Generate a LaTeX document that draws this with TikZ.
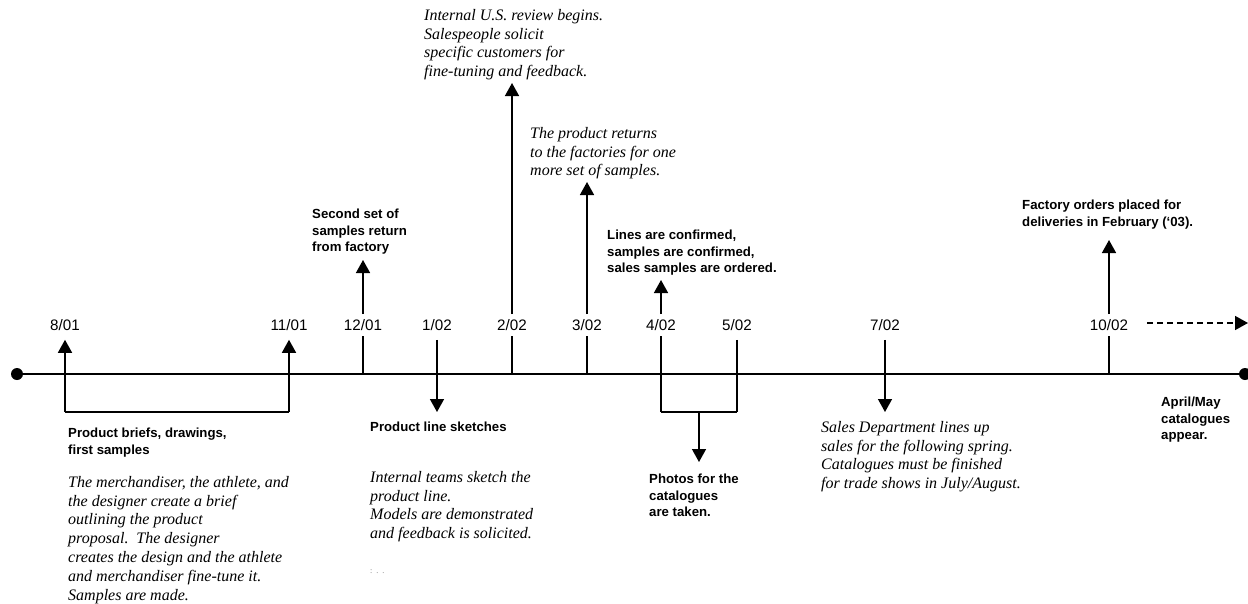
\documentclass[tikz,border=0pt]{standalone}
\usepackage{fontspec}
\setmainfont{Liberation Serif}
\setsansfont{Liberation Sans}
\usetikzlibrary{arrows.meta}

\tikzset{
	datelbl/.style={font=\sffamily\fontsize{15.2}{18}\selectfont, inner sep=5pt},
	headtxt/.style={font=\sffamily\bfseries\fontsize{13.2}{16.5}\selectfont, align=left, anchor=north west, inner sep=0pt},
	notetxt/.style={font=\itshape\fontsize{16}{18.8}\selectfont, align=left, anchor=north west, inner sep=0pt},
	evline/.style={line width=1.5pt},
	evarrow/.style={line width=1.5pt, -{Triangle[width=14pt,length=13pt]}},
	axisdot/.style={circle, fill=black, inner sep=0pt, minimum size=12pt},
}

\begin{document}
\begin{tikzpicture}[x=1pt,y=-1pt]
	\useasboundingbox (0,0) rectangle (1248,603);

	% time line
	\node[axisdot] (start) at (17,374) {};
	\node[axisdot] (finish) at (1245,374) {};
	\draw[line width=2pt] (start) -- (finish);

	% dates
	\node[datelbl] (d801) at (65,325) {8/01};
	\node[datelbl] (d1101) at (289,325) {11/01};
	\node[datelbl] (d1201) at (363,325) {12/01};
	\node[datelbl] (d102) at (437,325) {1/02};
	\node[datelbl] (d202) at (512,325) {2/02};
	\node[datelbl] (d302) at (587,325) {3/02};
	\node[datelbl] (d402) at (661,325) {4/02};
	\node[datelbl] (d502) at (737,325) {5/02};
	\node[datelbl] (d702) at (885,325) {7/02};
	\node[datelbl] (d1002) at (1109,325) {10/02};

	% 8/01 - 11/01
	\coordinate (b801) at (65,412);
	\coordinate (b1101) at (289,412);
	\draw[evline] (b801) -- (b1101);
	\draw[evarrow] [shorten >=4pt] (b801) -- (d801.south);
	\draw[evarrow] [shorten >=4pt] (b1101) -- (d1101.south);
	\node[headtxt] (briefs) at (68,428) {Product briefs, drawings,\\first samples};
	\node[notetxt] (briefsnote) at (68,476) {The merchandiser, the athlete, and\\the designer create a brief\\outlining the product\\proposal.\ \ The designer\\creates the design and the athlete\\and merchandiser fine-tune it.\\Samples are made.};

	% 12/01
	\coordinate (a1201) at (363,374);
	\coordinate (t1201) at (363,260);
	\draw[evline] (a1201) -- (d1201.south);
	\draw[evarrow] (d1201.north) -- (t1201);
	\node[headtxt] (second) at (312,209) {Second set of\\samples return\\from factory};

	% 1/02
	\coordinate (t102) at (437,412);
	\draw[evarrow] [shorten <=4pt] (d102.south) -- (t102);
	\node[headtxt] (sketches) at (370,422) {Product line sketches};
	\node[notetxt] (sketchesnote) at (370,471) {Internal teams sketch the\\product line.\\Models are demonstrated\\and feedback is solicited.};
	\node[font=\fontsize{8}{9}\selectfont, text=black!55, anchor=north west, inner sep=0pt] (stray) at (370,570) {:\ \ .\ \ .};

	% 2/02
	\coordinate (a202) at (512,374);
	\coordinate (t202) at (512,83);
	\draw[evline] (a202) -- (d202.south);
	\draw[evarrow] (d202.north) -- (t202);
	\node[notetxt] (review) at (424,9) {Internal U.S. review begins.\\Salespeople solicit\\specific customers for\\fine-tuning and feedback.};

	% 3/02
	\coordinate (a302) at (587,374);
	\coordinate (t302) at (587,182);
	\draw[evline] (a302) -- (d302.south);
	\draw[evarrow] (d302.north) -- (t302);
	\node[notetxt] (returns) at (530,127) {The product returns\\to the factories for one\\more set of samples.};

	% 4/02 - 5/02
	\coordinate (b402) at (661,412);
	\coordinate (b502) at (737,412);
	\coordinate (bmid) at (699,412);
	\coordinate (t402) at (661,280);
	\coordinate (tphoto) at (699,462);
	\draw[evline] (b402) -- (d402.south);
	\draw[evarrow] (d402.north) -- (t402);
	\draw[evline] [shorten <=4pt] (d502.south) -- (b502);
	\draw[evline] (b402) -- (b502);
	\draw[evarrow] (bmid) -- (tphoto);
	\node[headtxt] (confirmed) at (607,230) {Lines are confirmed,\\samples are confirmed,\\sales samples are ordered.};
	\node[headtxt] (photos) at (649,474) {Photos for the\\catalogues\\are taken.};

	% 7/02
	\coordinate (t702) at (885,412);
	\draw[evarrow] [shorten <=4pt] (d702.south) -- (t702);
	\node[notetxt] (salesdept) at (821,421) {Sales Department lines up\\sales for the following spring.\\Catalogues must be finished\\for trade shows in July/August.};

	% 10/02
	\coordinate (a1002) at (1109,374);
	\coordinate (t1002) at (1109,240);
	\draw[evline] (a1002) -- (d1002.south);
	\draw[evarrow] (d1002.north) -- (t1002);
	\node[headtxt] (factory) at (1022,200) {Factory orders placed for\\deliveries in February (‘03).};

	% beyond
	\coordinate (dstart) at (1147,323);
	\coordinate (dend) at (1248,323);
	\draw[evarrow] [dash pattern=on 6pt off 4pt] (dstart) -- (dend);
	\node[headtxt] (april) at (1161,397) {April/May\\catalogues\\appear.};

\end{tikzpicture}
\end{document}
